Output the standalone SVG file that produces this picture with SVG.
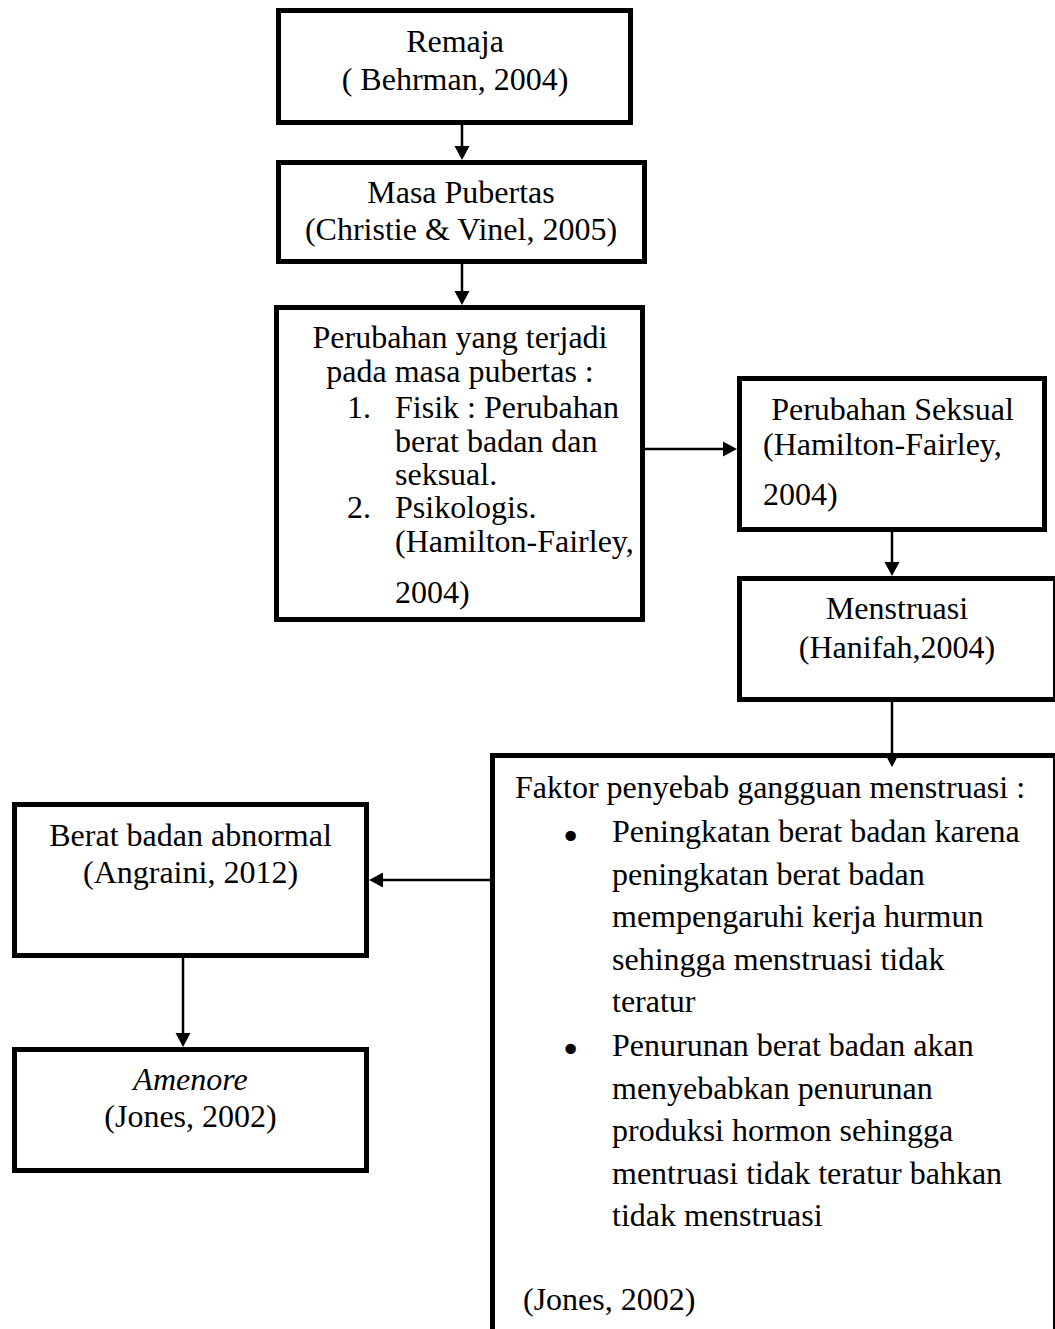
<svg xmlns="http://www.w3.org/2000/svg" width="1055" height="1329" viewBox="0 0 1055 1329">
<style>
.box{fill:#fff;stroke:#000;stroke-width:5}
.t{font-family:"Liberation Serif","Times New Roman",serif;font-size:32px;fill:#000}
.c{text-anchor:middle}
.it{font-style:italic}
.con{fill:none;stroke:#000;stroke-width:2.5}
.bul{font-family:"DejaVu Sans",sans-serif;font-size:36px;fill:#000}
</style>
<defs>
<marker id="ah" markerUnits="userSpaceOnUse" markerWidth="16" markerHeight="18" refX="0" refY="8" orient="auto">
<path d="M0,0.5 L14,8 L0,15.5 Z" fill="#000"/>
</marker>
</defs>
<rect width="1055" height="1329" fill="#fff"/>

<g id="remaja">
<rect class="box" x="278.5" y="10.5" width="352" height="112"/>
<text class="t c" x="455" y="52">Remaja</text>
<text class="t c" x="455" y="90">( Behrman, 2004)</text>
</g>

<g id="pubertas">
<rect class="box" x="278.5" y="162.5" width="366" height="99"/>
<text class="t c" x="461" y="203">Masa Pubertas</text>
<text class="t c" x="461" y="240">(Christie &amp; Vinel, 2005)</text>
</g>

<g id="perubahan">
<rect class="box" x="276.5" y="307.5" width="366" height="312"/>
<text class="t c" x="460" y="348">Perubahan yang terjadi</text>
<text class="t c" x="460" y="382">pada masa pubertas :</text>
<text class="t" x="347" y="418">1.</text>
<text class="t" x="395" y="418">Fisik : Perubahan</text>
<text class="t" x="395" y="452">berat badan dan</text>
<text class="t" x="395" y="485">seksual.</text>
<text class="t" x="347" y="518">2.</text>
<text class="t" x="395" y="518">Psikologis.</text>
<text class="t" x="395" y="552">(Hamilton-Fairley,</text>
<text class="t" x="395" y="603">2004)</text>
</g>

<g id="seksual">
<rect class="box" x="739.5" y="378.5" width="305" height="151"/>
<text class="t c" x="892.5" y="420">Perubahan Seksual</text>
<text class="t" x="763" y="455">(Hamilton-Fairley,</text>
<text class="t" x="763" y="505">2004)</text>
</g>

<g id="menstruasi">
<rect class="box" x="739.5" y="578.5" width="316" height="121"/>
<text class="t c" x="897" y="619">Menstruasi</text>
<text class="t c" x="897" y="658">(Hanifah,2004)</text>
</g>

<g id="faktor">
<rect class="box" x="492.5" y="755.5" width="563" height="620"/>
<text class="t" x="515" y="798">Faktor penyebab gangguan menstruasi :</text>
<text class="bul" x="560" y="849">•</text>
<text class="t" x="612" y="842">Peningkatan berat badan karena</text>
<text class="t" x="612" y="884.5">peningkatan berat badan</text>
<text class="t" x="612" y="927">mempengaruhi kerja hurmun</text>
<text class="t" x="612" y="969.5">sehingga menstruasi tidak</text>
<text class="t" x="612" y="1012">teratur</text>
<text class="bul" x="560" y="1062">•</text>
<text class="t" x="612" y="1056">Penurunan berat badan akan</text>
<text class="t" x="612" y="1098.5">menyebabkan penurunan</text>
<text class="t" x="612" y="1141">produksi hormon sehingga</text>
<text class="t" x="612" y="1183.5">mentruasi tidak teratur bahkan</text>
<text class="t" x="612" y="1226">tidak menstruasi</text>
<text class="t" x="523" y="1310">(Jones, 2002)</text>
</g>

<g id="berat">
<rect class="box" x="14.5" y="804.5" width="352" height="151"/>
<text class="t c" x="190.5" y="846">Berat badan abnormal</text>
<text class="t c" x="190.5" y="883">(Angraini, 2012)</text>
</g>

<g id="amenore">
<rect class="box" x="14.5" y="1049.5" width="352" height="121"/>
<text class="t c it" x="190.5" y="1090">Amenore</text>
<text class="t c" x="190.5" y="1127">(Jones, 2002)</text>
</g>

<g id="connectors">
<path class="con" d="M462,125 V146" marker-end="url(#ah)"/>
<path class="con" d="M462,264 V291" marker-end="url(#ah)"/>
<path class="con" d="M645,449 H723" marker-end="url(#ah)"/>
<path class="con" d="M892,532 V562" marker-end="url(#ah)"/>
<path class="con" d="M892,702 V753" marker-end="url(#ah)"/>
<path class="con" d="M490,880 H383" marker-end="url(#ah)"/>
<path class="con" d="M183,958 V1033" marker-end="url(#ah)"/>
</g>
</svg>
